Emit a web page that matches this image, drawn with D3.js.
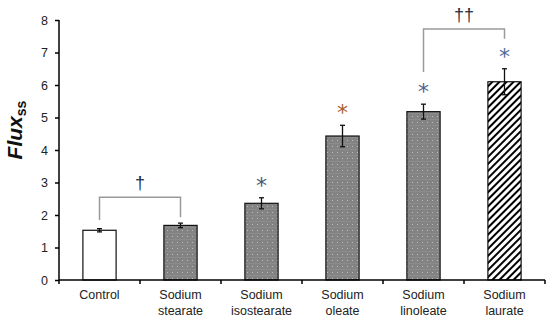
<!DOCTYPE html>
<html>
<head>
<script src="https://d3js.org/d3.v7.min.js"></script>
<style>
  body { margin: 0; background: #fff; }
  text { font-family: "Liberation Sans", Arial, sans-serif; }
</style>
</head>
<body>
<script>
// chart data
var categories = ["Control", "Sodium stearate", "Sodium isostearate", "Sodium oleate", "Sodium linoleate", "Sodium laurate"];
var labelLines = [["Control"], ["Sodium", "stearate"], ["Sodium", "isostearate"], ["Sodium", "oleate"], ["Sodium", "linoleate"], ["Sodium", "laurate"]];
var fluxValues = [1.53, 1.68, 2.36, 4.43, 5.18, 6.1];
var fluxErrors = [0.05, 0.07, 0.17, 0.33, 0.23, 0.4];
var starMarks = ["", "", "*", "*", "*", "*"];
var yTicks = [0, 1, 2, 3, 4, 5, 6, 7, 8];
var brackets = [
  {from: 0, to: 1, top: 2.55, leftEnd: 1.85, rightEnd: 1.93, label: "\u2020"},
  {from: 4, to: 5, top: 7.72, leftEnd: 6.4, rightEnd: 7.42, label: "\u2020\u2020"}
];

var width = 550, height = 320;
var plotLeft = 59, plotRight = 545, plotTop = 20, plotBottom = 280;

var svg = d3.select("body").append("svg")
  .attr("width", width)
  .attr("height", height);

// patterns
var defs = svg.append("defs");
var dots = defs.append("pattern")
  .attr("id", "dots")
  .attr("patternUnits", "userSpaceOnUse")
  .attr("width", 5).attr("height", 6);
dots.append("rect").attr("width", 5).attr("height", 6).attr("fill", "#838383");
dots.append("rect").attr("x", 2).attr("y", 2).attr("width", 1).attr("height", 1).attr("fill", "#bdbdbd");
dots.append("rect").attr("x", 0).attr("y", 5).attr("width", 5).attr("height", 1).attr("fill", "#8c8c8c");

var hatch = defs.append("pattern")
  .attr("id", "hatch")
  .attr("patternUnits", "userSpaceOnUse")
  .attr("width", 5).attr("height", 5)
  .attr("patternTransform", "rotate(45)");
hatch.append("rect").attr("width", 5).attr("height", 5).attr("fill", "#fff");
hatch.append("rect").attr("width", 2).attr("height", 5).attr("fill", "#000");

var fills = ["#fff", "url(#dots)", "url(#dots)", "url(#dots)", "url(#dots)", "url(#hatch)"];
var starColors = ["", "", "#4a5678", "#a8602a", "#4f6090", "#4f6a9a"];

var x = d3.scaleBand().domain(d3.range(categories.length)).range([plotLeft, plotRight]).padding(0);
var y = d3.scaleLinear().domain([0, 8]).range([plotBottom, plotTop]);
var barW = x.bandwidth() * 0.41;
var cx = function(i) { return x(i) + x.bandwidth() / 2; };

// y axis
var yAxis = svg.append("g")
  .attr("transform", "translate(" + plotLeft + ",0)")
  .call(d3.axisLeft(y).tickValues(yTicks).tickSize(4).tickPadding(7).tickSizeOuter(0));
yAxis.select(".domain").attr("stroke", "#000").attr("stroke-width", 1.5)
  .attr("d", "M0," + (plotBottom + 4) + "V" + plotTop);
yAxis.selectAll(".tick line").attr("stroke-width", 1.5);
yAxis.selectAll("text").style("font-size", "12.5px").attr("fill", "#222");

// bars
svg.selectAll(".bar")
  .data(fluxValues)
  .enter().append("rect")
  .attr("class", "bar")
  .attr("x", function(d, i) { return cx(i) - barW / 2; })
  .attr("y", function(d) { return y(d); })
  .attr("width", barW)
  .attr("height", function(d) { return y(0) - y(d); })
  .attr("fill", function(d, i) { return fills[i]; })
  .attr("stroke", "#111")
  .attr("stroke-width", 1.2);

// error bars
var eb = svg.selectAll(".err")
  .data(fluxValues)
  .enter().append("g")
  .attr("stroke", "#111")
  .attr("stroke-width", 1.3);
eb.append("line")
  .attr("x1", function(d, i) { return cx(i); })
  .attr("x2", function(d, i) { return cx(i); })
  .attr("y1", function(d, i) { return y(d + fluxErrors[i]); })
  .attr("y2", function(d, i) { return y(d - fluxErrors[i]); });
[1, -1].forEach(function(s) {
  eb.append("line")
    .attr("x1", function(d, i) { return cx(i) - 2.5; })
    .attr("x2", function(d, i) { return cx(i) + 2.5; })
    .attr("y1", function(d, i) { return y(d + s * fluxErrors[i]); })
    .attr("y2", function(d, i) { return y(d + s * fluxErrors[i]); });
});

// x axis
svg.append("line")
  .attr("x1", plotLeft).attr("x2", plotRight)
  .attr("y1", plotBottom).attr("y2", plotBottom)
  .attr("stroke", "#000").attr("stroke-width", 1.5);
svg.selectAll(".xtick")
  .data(d3.range(1, categories.length + 1))
  .enter().append("line")
  .attr("x1", function(i) { return plotLeft + i * x.step(); })
  .attr("x2", function(i) { return plotLeft + i * x.step(); })
  .attr("y1", plotBottom).attr("y2", plotBottom + 4)
  .attr("stroke", "#000").attr("stroke-width", 1.5);

var xl = svg.selectAll(".xlab")
  .data(labelLines)
  .enter().append("text")
  .attr("text-anchor", "middle")
  .style("font-size", "12.5px")
  .attr("fill", "#222");
xl.selectAll("tspan")
  .data(function(d, i) { return d.map(function(t) { return {t: t, i: i}; }); })
  .enter().append("tspan")
  .attr("x", function(d) { return cx(d.i); })
  .attr("y", function(d, j) { return 299 + j * 16; })
  .text(function(d) { return d.t; });

// significance stars
svg.selectAll(".star")
  .data(fluxValues)
  .enter().append("text")
  .attr("x", function(d, i) { return cx(i); })
  .attr("y", function(d, i) { return y(d + fluxErrors[i]) - 5; })
  .attr("text-anchor", "middle")
  .style("font-family", "DejaVu Sans, sans-serif")
  .style("font-size", "22px")
  .attr("fill", function(d, i) { return starColors[i]; })
  .text(function(d, i) { return starMarks[i]; });

// brackets
brackets.forEach(function(b) {
  var x1 = cx(b.from), x2 = cx(b.to);
  svg.append("path")
    .attr("d", "M" + x1 + "," + y(b.leftEnd) + "V" + y(b.top) + "H" + x2 + "V" + y(b.rightEnd))
    .attr("fill", "none")
    .attr("stroke", "#9a9a9a")
    .attr("stroke-width", 1.5);
  svg.append("text")
    .attr("x", (x1 + x2) / 2)
    .attr("y", y(b.top) - 8)
    .attr("text-anchor", "middle")
    .style("font-size", "18px")
    .attr("fill", "#1f3048")
    .text(b.label);
});

// y label
var yl = svg.append("text")
  .attr("transform", "translate(22," + 130 + ") rotate(-90)")
  .attr("text-anchor", "middle")
  .style("font-weight", "bold")
  .attr("fill", "#111");
yl.append("tspan").style("font-size", "21px").style("font-style", "italic").text("Flux");
yl.append("tspan").style("font-size", "14px").attr("dy", 4).text("ss");
</script>
</body>
</html>
